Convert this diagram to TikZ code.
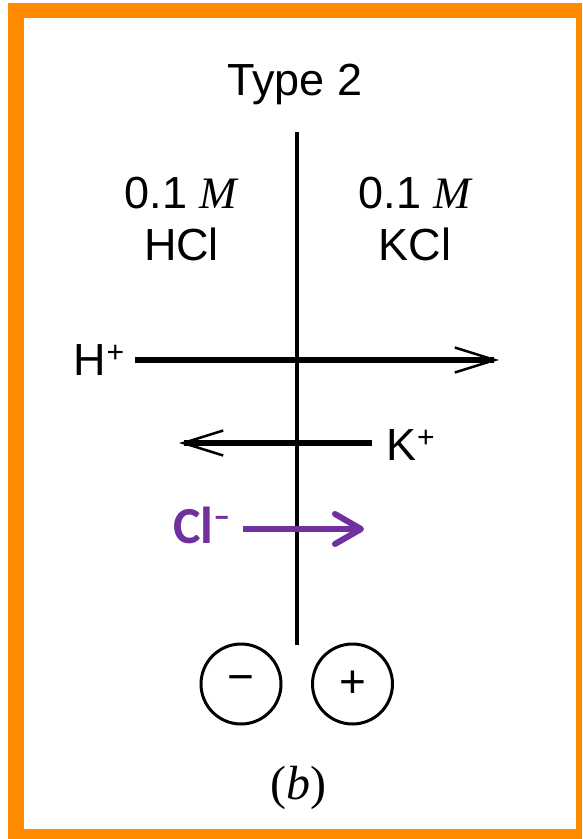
\documentclass[tikz,border=0pt]{standalone}
\usepackage{fontspec}
\setmainfont{Liberation Sans}
\newfontfamily\serifit{Liberation Serif}
\newfontfamily\calib{Carlito}
\usetikzlibrary{arrows.meta}
\definecolor{frameorange}{HTML}{FF8A00}
\definecolor{clpurple}{HTML}{7030A0}
\newcommand{\supplus}{\raisebox{13pt}{\fontsize{30}{30}\selectfont +}}
\tikzset{
  lbl/.style={inner sep=0pt, anchor=base, font=\fontsize{45}{45}\selectfont},
  ionarrow/.style={line width=5.5pt, -{Straight Barb[length=40pt, width=25pt, line width=2.5pt]}},
  clarrow/.style={clpurple, line width=6pt, -{Straight Barb[length=26pt, width=30pt, round, line width=6pt]}},
  sign/.style={circle, draw, line width=3pt, minimum size=80pt, inner sep=0pt}
}
\begin{document}
\begin{tikzpicture}[x=1pt, y=-1pt]
\useasboundingbox (0,0) rectangle (582,839);
% frame
\fill[frameorange] (8,3) rectangle (582,839);
\fill[white] (24,18) rectangle (576,829);
% title
\node[lbl] (title) at (295,95) {Type 2};
% membrane
\coordinate (mt) at (297,132);
\coordinate (mb) at (297,645);
\draw[line width=4.5pt] (mt) -- (mb);
% concentrations
\node[lbl] (lconc) at (181,208) {0.1 {\serifit\itshape M}};
\node[lbl] (lsalt) at (181.5,260) {HCl};
\node[lbl] (rconc) at (415,208) {0.1 {\serifit\itshape M}};
\node[lbl] (rsalt) at (415,260) {KCl};
% H+
\node[lbl, anchor=base west] (hion) at (73,375) {H\kern1pt\supplus};
\coordinate (hs) at (135,360);
\coordinate (he) at (499,360);
\draw[ionarrow] (hs) -- (he);
% K+
\node[lbl, anchor=base west] (kion) at (386,460) {K\kern1pt\supplus};
\coordinate (ks) at (372,443);
\coordinate (ke) at (179,443);
\draw[ionarrow] (ks) -- (ke);
% Cl-
\node[inner sep=0pt, anchor=base west, text=clpurple, font=\calib\bfseries\fontsize{52}{52}\selectfont] (clion) at (173,543) {Cl\raisebox{16pt}{\fontsize{34}{34}\selectfont –}};
\coordinate (cs) at (243,529);
\coordinate (ce) at (364,529);
\draw[clarrow] (cs) -- (ce);
% electrodes
\node[sign] (neg) at (241,684) {};
\node[sign] (pos) at (352.5,684) {};
\node[inner sep=0pt, font=\fontsize{46}{46}\selectfont] (negs) at (neg.center) {−};
\node[inner sep=0pt, font=\fontsize{46}{46}\selectfont] (poss) at (pos.center) {+};
% caption
\node[inner sep=0pt, anchor=base, font=\serifit\fontsize{48}{48}\selectfont] (cap) at (298,799) {(\textit{b})};
\end{tikzpicture}
\end{document}
